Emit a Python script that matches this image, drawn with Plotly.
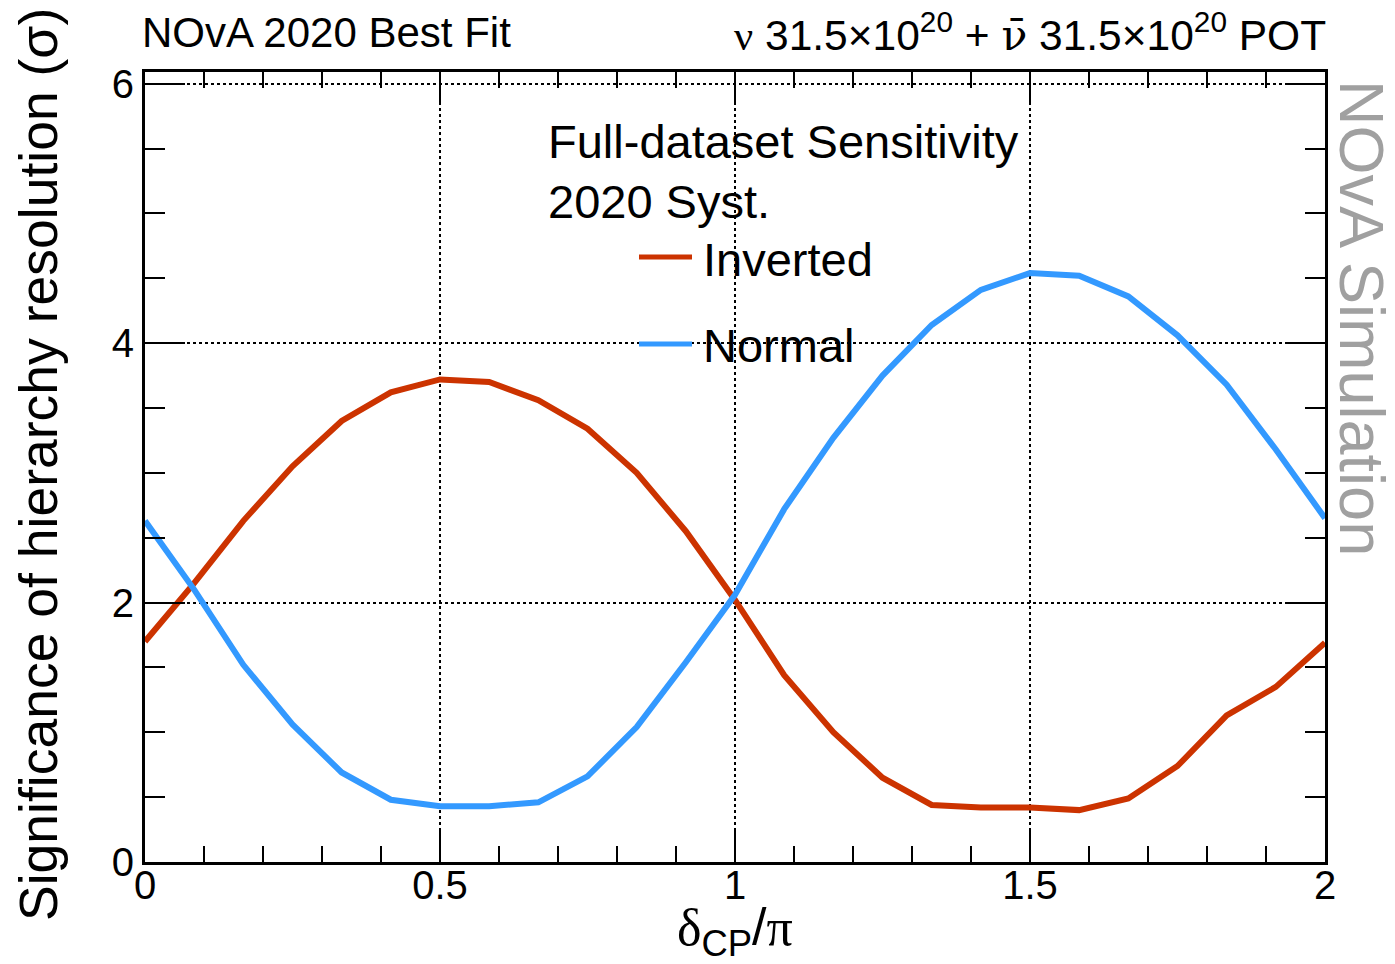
import plotly.graph_objects as go

delta_cp = [k / 12 for k in range(25)]
inverted = [1.70, 2.15, 2.63, 3.05, 3.40, 3.62, 3.72, 3.70, 3.56, 3.34, 3.00, 2.55, 2.02,
            1.44, 1.00, 0.65, 0.44, 0.42, 0.42, 0.40, 0.49, 0.74, 1.13, 1.35, 1.69]
normal = [2.63, 2.10, 1.52, 1.06, 0.69, 0.48, 0.43, 0.43, 0.46, 0.66, 1.04, 1.54, 2.06,
          2.72, 3.27, 3.75, 4.14, 4.41, 4.54, 4.52, 4.36, 4.06, 3.68, 3.18, 2.65]
x_ticks = [0, 0.5, 1, 1.5, 2]
x_tick_labels = ["0", "0.5", "1", "1.5", "2"]
y_ticks = [0, 2, 4, 6]
y_tick_labels = ["0", "2", "4", "6"]

RED = "#cc3300"
BLUE = "#3399ff"
FONT = "Liberation Sans"
SERIF = "Liberation Serif"

fig = go.Figure()
fig.add_trace(go.Scatter(x=delta_cp, y=inverted, mode="lines", name="Inverted",
                         line=dict(color=RED, width=6), showlegend=False))
fig.add_trace(go.Scatter(x=delta_cp, y=normal, mode="lines", name="Normal",
                         line=dict(color=BLUE, width=6), showlegend=False))

axis_common = dict(
    showline=True, linecolor="black", linewidth=3, mirror="allticks",
    ticks="inside", tickcolor="black", tickwidth=2,
    showgrid=True, gridcolor="black", gridwidth=2, griddash="dot",
    zeroline=False, automargin=False,
    tickfont=dict(family=FONT, size=40, color="black"),
)

fig.update_xaxes(
    range=[0, 2], tickvals=x_ticks, ticktext=x_tick_labels, ticklen=31,
    ticklabelstandoff=-14,
    minor=dict(dtick=0.1, ticks="inside", ticklen=16, tickcolor="black", tickwidth=2, showgrid=False),
    **axis_common,
)
fig.update_yaxes(
    range=[0, 6.09], tickvals=y_ticks, ticktext=y_tick_labels, ticklen=40,
    minor=dict(dtick=0.5, ticks="inside", ticklen=20, tickcolor="black", tickwidth=2, showgrid=False),
    **axis_common,
)

W, H = 1395, 964
L, R, T, B = 145, 70, 72, 102
pw, ph = W - L - R, H - T - B


def px(x):
    return (x - L) / pw


def py(y):
    return (H - B - y) / ph


annotations = [
    dict(text="NOvA 2020 Best Fit", x=px(140), y=py(33), xanchor="left", yanchor="middle",
         font=dict(family=FONT, size=42, color="black")),
    dict(text=f"<span style='font-family:{SERIF}'>ν</span> 31.5×10<sup>20</sup> + "
              f"<span style='font-family:DejaVu Serif'>ν̄</span> 31.5×10<sup>20</sup> POT",
         x=px(1328), y=py(33), xanchor="right", yanchor="middle",
         font=dict(family=FONT, size=42.5, color="black")),
    dict(text="Full-dataset Sensitivity", x=px(546), y=py(141), xanchor="left", yanchor="middle",
         font=dict(family=FONT, size=47, color="black")),
    dict(text="2020 Syst.", x=px(546), y=py(201), xanchor="left", yanchor="middle",
         font=dict(family=FONT, size=47, color="black")),
    dict(text="Inverted", x=px(701), y=py(259), xanchor="left", yanchor="middle",
         font=dict(family=FONT, size=47, color="black")),
    dict(text="Normal", x=px(701), y=py(346), xanchor="left", yanchor="middle",
         font=dict(family=FONT, size=47, color="black")),
    dict(text="NOvA Simulation", x=px(1362), y=py(318), xanchor="center", yanchor="middle",
         textangle=90, font=dict(family=FONT, size=63, color="#a0a0a0")),
    dict(text="Significance of hierarchy resolution (σ)", x=px(38), y=py(465),
         xanchor="center", yanchor="middle", textangle=-90,
         font=dict(family=FONT, size=53.5, color="black")),
    dict(text=f"<span style='font-family:{SERIF}'>δ</span><sub>CP</sub>/<span style='font-family:{SERIF}'>π</span>",
         x=px(735), y=py(931), xanchor="center", yanchor="middle",
         font=dict(family=FONT, size=52, color="black")),
]
for a in annotations:
    a.update(xref="paper", yref="paper", showarrow=False)

shapes = [
    dict(type="line", xref="paper", yref="paper", x0=px(639), x1=px(692), y0=py(257), y1=py(257),
         line=dict(color=RED, width=5)),
    dict(type="line", xref="paper", yref="paper", x0=px(639), x1=px(692), y0=py(344), y1=py(344),
         line=dict(color=BLUE, width=5)),
]

fig.update_layout(
    width=W, height=H, margin=dict(l=L, r=R, t=T, b=B, autoexpand=False),
    paper_bgcolor="white", plot_bgcolor="white",
    annotations=annotations, shapes=shapes, showlegend=False,
    font=dict(family=FONT, color="black"),
)

fig.write_html(
    "out.html",
    config={"displayModeBar": False},
    post_script="document.body.style.margin='0';document.body.style.overflow='hidden';",
)
